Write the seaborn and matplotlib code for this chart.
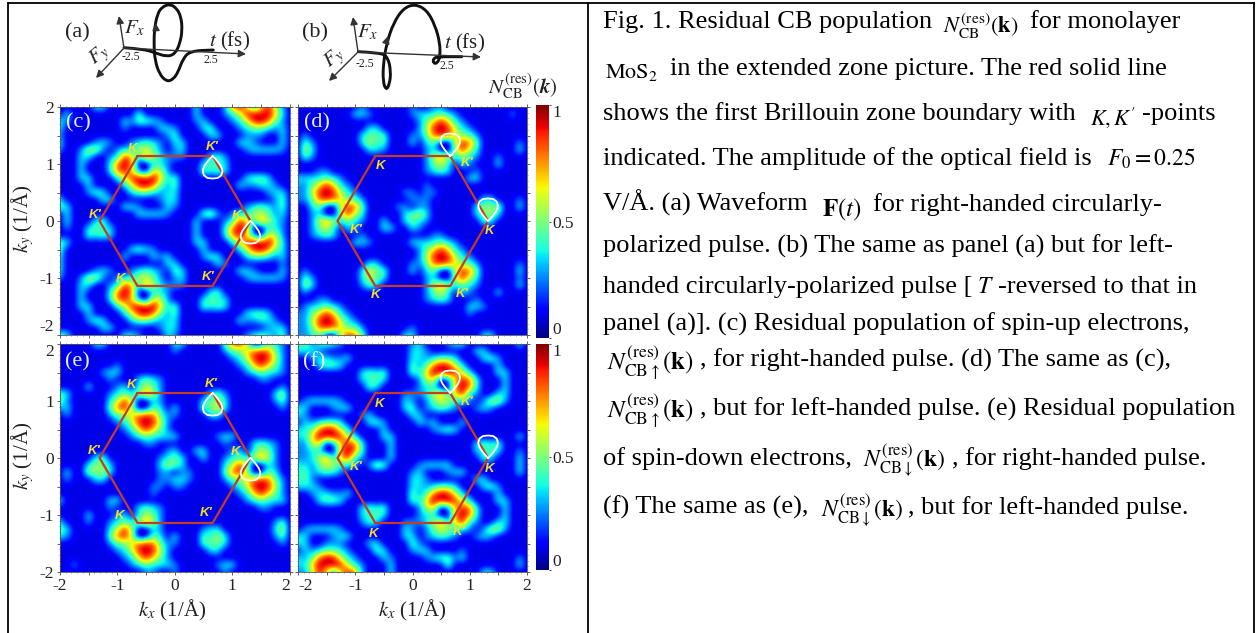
import numpy as np
import matplotlib
matplotlib.use('Agg')
import matplotlib.pyplot as plt
from matplotlib.path import Path
from matplotlib.patches import PathPatch
import seaborn as sns

sns.set_theme(style='white')
plt.rcParams['font.family'] = ['Liberation Serif', 'DejaVu Serif']
plt.rcParams['mathtext.fontset'] = 'stix'

# population, one digit per cell, read through value_levels
value_levels = [0.03, 0.09, 0.26, 0.37, 0.47, 0.58, 0.68, 0.8, 0.9, 0.98]
panel_c = [
    "11111331 11111111 11131112 78626852", "13111111 11141111 11131112 35898963",
    "32111111 13244321 11123111 23589742", "31111111 12111133 21113411 12344323",
    "21111111 11111112 41111331 11222113", "31111232 11234321 33111111 13321113",
    "21125521 23355421 23111111 11233332", "11133112 38637532 22111342 11111111",
    "11131113 79700332 11113433 11111111", "11131113 78620652 11114343 11111111",
    "11133111 35898963 41111111 11344311", "11113111 13589742 41111111 13223321",
    "11112431 11344323 31111111 11111233", "31111133 11111123 31111111 11111124",
    "43111111 13321113 21111111 11234324", "13111111 11133332 11114521 23355423",
    "13111341 11111111 11131112 38637532", "12113433 11111111 11131113 79700332",
    "11114343 11111111 11131113 78620652", "43111111 11111111 11133111 35898963",
    "41111111 11343211 11113111 13589743", "31111111 13111323 11112431 11344323",
    "31111111 11111113 31111132 11111112", "31111232 11234321 43111111 13321113",
    "21125521 23355421 23111111 11233332", "11133112 38637532 22111111 11111111",
    "11131113 79700332 11111341 11111111", "11131113 78620652 11113433 11111111",
    "11133111 35898963 41114343 11111111", "11113111 13589742 41111111 11344311",
    "11112431 11344323 31111111 13223321", "11111133 11111123 31111111 11111233",
    "43111111 13321113 21111111 11234324",
]
panel_d = [
    "11111111 12111111 21122111 11111111", "11111111 33211111 23334321 11111121",
    "11111111 11111111 12468632 11111111", "11111111 11331111 12589853 21111111",
    "12111111 13444111 22478764 42111111", "14211111 13534111 31341058 74111112",
    "15311111 11332111 11230058 53111113", "14211111 11111111 11257534 32112111",
    "11111111 11111111 11245313 21113111", "11122111 11111111 11234311 12111111",
    "33334321 11111111 11111111 33111111", "22468632 11111111 11211111 11111111",
    "22589853 21111112 21221111 11111111", "22478764 42111111 22211111 11331112",
    "11341058 74111122 12211111 13545113", "11230058 53111113 45311111 13453111",
    "11257534 32113113 43211111 11431111", "11245313 21113311 32111111 11111111",
    "11234311 12111111 11122111 11111111", "11111111 33211111 33334321 11111111",
    "11111111 11111111 12468632 11111111", "11111111 11111111 12589853 21111111",
    "11111111 11331111 22478764 42111112", "12111111 13644111 31341058 74111113",
    "14211111 13543111 11230058 53111112", "15311111 12431111 11257534 32111113",
    "12111111 11111111 11245313 21113111", "11122111 11111111 11234311 12111111",
    "12334321 11111111 11111111 33211111", "22468632 11111111 11111111 21111111",
    "22589853 21111111 11111111 11111111", "22478764 42111111 21111111 11111111",
    "22341058 74111113 31111111 11331111",
]
panel_e = [
    "11111331 11111111 33111114 78501432", "11111111 11111111 21111112 44678742",
    "11111111 11111111 11111111 23589852", "11111111 21111111 11111111 12368642",
    "11111123 31111111 11111111 11234332", "11111112 11134321 11111111 11112211",
    "11113111 23135421 11111111 11111112", "43111112 34357521 11111342 11111135",
    "42111113 58500321 11113453 11111124", "23111114 78501431 31114463 11111112",
    "12111112 44678742 21111331 11111111", "11111111 23589852 11111111 11111111",
    "11111111 12368642 11111111 11111111", "11111111 11234333 31111123 31111111",
    "11111111 11112211 11111112 11134321", "11111111 11111112 31133111 23135421",
    "11111341 11111123 43113112 34357521", "11113543 11111135 43111113 58500321",
    "13115453 11111122 12211114 78501431", "12111331 11111122 33211112 44678742",
    "11111111 11111221 22111111 23589852", "11111111 11111211 11111111 12368642",
    "31111113 31111111 11111111 11234333", "11111112 11134321 11111111 11112211",
    "11113111 23135421 11111111 11111111", "31112112 34357521 11111111 11111124",
    "43111113 58500321 11112331 11111135", "32111114 78501431 31114353 11111124",
    "11111112 44678742 21114443 11111112", "11111111 23589852 11111331 11111111",
    "11111111 12368642 11111111 11111111", "11211111 11234333 21111123 31111111",
    "11111111 11112211 21111112 11111111",
]
panel_f = [
    "34234321 11111111 23111233 11111113", "33321111 11111111 33211111 13311111",
    "11233223 11111111 33234431 11342111", "11134431 11111111 42479853 11113111",
    "11111111 13434111 43698985 31113311", "11111111 13343111 12560268 73111311",
    "11111111 11431111 12330079 73111311", "11111111 11111112 22357368 32113311",
    "12333321 11111113 21245533 21255211", "33111233 11111113 41234321 12321111",
    "32111111 12311111 33111111 11111111", "13234431 11342111 13231113 11111111",
    "33479853 11113111 11123431 11111111", "33698985 31113311 11111111 11111113",
    "22560268 73111311 11111111 13434111", "22330079 73111311 11111111 13343112",
    "22357368 32111311 11111111 11431113", "33245533 21254111 12333311 11111113",
    "34234321 11111111 23111233 11111113", "34211111 11111111 33211111 13311111",
    "33321111 11111111 33234431 11342111", "11233223 11111111 42479853 11113111",
    "11134431 11111111 43698985 31113311", "11111111 13434111 12560268 73111311",
    "11111111 13343111 12330079 73111311", "11111111 12431112 22357368 32113311",
    "12333321 11111113 21245533 21255211", "33111233 11111113 31234321 12321111",
    "33112221 11331111 42111111 11111111", "13234432 11143111 23311112 11111111",
    "32479853 21113211 11234423 11111112", "33698985 32111311 11111411 11111113",
    "22586268 72111311 11111111 11331111",
]

# first Brillouin zone and the teardrop rings
hex_kx = [-0.65, 0.66, 1.32, 0.66, -0.65, -1.31, -0.65]
hex_ky = [1.14, 1.14, 0, -1.14, -1.14, 0, 1.14]
ring_dx = [0, 0.04, 0.09, 0.14, 0.165, 0.17, 0.15, 0.09, 0, -0.09, -0.15, -0.17, -0.165, -0.14, -0.09, -0.04, 0]
ring_dy = [0, -0.04, -0.10, -0.17, -0.23, -0.28, -0.34, -0.385, -0.395, -0.385, -0.34, -0.28, -0.23, -0.17, -0.10, -0.04, 0]
ring_apex_x = [0.66, 1.32]
ring_apex_y = [1.14, 0]

labels_c = [("K", -0.73, 1.26), ("K'", 0.65, 1.30), ("K'", -1.39, 0.10), ("K", 1.07, 0.09), ("K", -0.94, -1.02), ("K'", 0.59, -0.98)]
labels_d = [("K", -0.55, 0.97), ("K'", 0.95, 1.01), ("K'", -0.98, -0.16), ("K", 1.35, -0.18), ("K", -0.65, -1.30), ("K'", 0.86, -1.28)]
labels_e = [("K", -0.76, 1.28), ("K'", 0.63, 1.30), ("K'", -1.41, 0.13), ("K", 1.06, 0.10), ("K", -0.96, -1.01), ("K'", 0.55, -0.97)]
labels_f = [("K", -0.57, 0.95), ("K'", 0.96, 0.99), ("K'", -0.99, -0.15), ("K", 1.34, -0.19), ("K", -0.68, -1.33), ("K'", 0.82, -1.29)]

# waveforms, in picture pixels
wave_a_x = [124, 143, 155, 166.7, 175, 180, 182.3, 181, 176.7, 170, 162.3, 157.3, 154.3, 154, 155, 159.3, 166.7, 173.3, 178.3, 182.7, 190, 213.3]
wave_a_y = [47.7, 49, 52.7, 56.7, 54, 43.3, 30, 16.7, 8.3, 4, 6.7, 14, 30, 46.7, 60, 74, 81.7, 79.3, 71.7, 59.3, 51, 50]
wave_b_x = [358.3, 380, 387.7, 391, 389.3, 386, 383, 383.3, 386.7, 393.3, 403.3, 415, 426.7, 435, 440, 440, 437.3, 433.3, 433.3, 438.3, 461.7]
wave_b_y = [51.7, 52.7, 56.7, 71.7, 85, 90, 81.7, 63.3, 43.3, 23.3, 8.3, 4, 10, 25, 43.3, 56.7, 63.3, 63.3, 58.3, 56.7, 56.7]

W, H = 1258, 633
fig = plt.figure(figsize=(W / 100, H / 100), dpi=100, facecolor='white')


def px_axes(x0, y0, x1, y1):
    return fig.add_axes([x0 / W, 1 - y1 / H, (x1 - x0) / W, (y1 - y0) / H])


def kx_pos(k):
    return (np.asarray(k) + 2) * 8 + 0.5


def ky_pos(k):
    return (2 - np.asarray(k)) * 8 + 0.5


def draw_panel(rows, box, names, apex_up, xlab, ylab, cbar_box=None):
    ax = px_axes(*box)
    cells = [r.replace(' ', '').ljust(33, '1')[:33] for r in rows]
    values = np.array([[value_levels[int(c)] for c in r] for r in cells])
    if cbar_box is None:
        sns.heatmap(values, ax=ax, cmap='jet', vmin=0, vmax=1, cbar=False, xticklabels=False, yticklabels=False)
    else:
        cax = px_axes(*cbar_box)
        sns.heatmap(values, ax=ax, cmap='jet', vmin=0, vmax=1, cbar_ax=cax, xticklabels=False, yticklabels=False,
                    cbar_kws={'ticks': [0, 0.5, 1]})
        cax.set_yticklabels(['0', '0.5', '1'], fontsize=12.5, color='#222222')
        cax.tick_params(length=1.5, width=0.6, pad=1, color='#222222')
        tick_names = cax.get_yticklabels()
        tick_names[0].set_va('bottom')
        tick_names[2].set_va('top')
    # same cells, smoothed like the original map
    ax.imshow(values, cmap='jet', vmin=0, vmax=1, extent=(0, 33, 33, 0), aspect='auto',
              interpolation='bicubic', interpolation_stage='data', zorder=1.5)
    ax.set_xlim(0.5, 32.5)
    ax.set_ylim(32.5, 0.5)
    ax.plot(kx_pos(hex_kx), ky_pos(hex_ky), color='#c43c26', lw=1.6, solid_joinstyle='round', zorder=3)
    sign = -1 if apex_up else 1
    for ax0, ay0 in zip(ring_apex_x, ring_apex_y):
        ax.plot(kx_pos(np.array(ring_dx) + ax0), ky_pos(sign * np.array(ring_dy) + ay0),
                color='white', lw=1.3, zorder=3)
    for name, kx, ky in names:
        ax.text(kx_pos(kx), ky_pos(ky), name, color='#f6e11e', fontsize=9.5, ha='center', va='center',
                family='Liberation Sans', style='italic', weight='bold', zorder=4)
    major = [-2, -1.5, -1, -0.5, 0, 0.5, 1, 1.5, 2]
    minor = [v / 10 for v in range(-20, 21)]
    ax.set_xticks(kx_pos(major))
    ax.set_yticks(ky_pos(major))
    ax.set_xticks(kx_pos(minor), minor=True)
    ax.set_yticks(ky_pos(minor), minor=True)
    names_major = ['-2', '', '-1', '', '0', '', '1', '', '2']
    ax.set_xticklabels(names_major if xlab else [''] * 9, fontsize=12.5, color='#222222')
    ax.set_yticklabels(names_major if ylab else [''] * 9, fontsize=12.5, color='#222222')
    ax.tick_params(which='major', length=2.2, width=0.6, color='#444444', pad=2,
                   left=True, bottom=True, top=True, right=True)
    ax.tick_params(which='minor', length=1.0, width=0.4, color='#444444',
                   left=True, bottom=True, top=True, right=True)
    for s in ax.spines.values():
        s.set_visible(True)
        s.set_linewidth(0.6)
        s.set_color('#555555')
    return ax


ax_c = draw_panel(panel_c, (60, 107, 289.5, 335), labels_c, False, False, True)
ax_d = draw_panel(panel_d, (298, 107, 527, 335), labels_d, True, False, False, (536, 105, 549, 338))
ax_e = draw_panel(panel_e, (60, 344, 289.5, 572), labels_e, False, True, True)
ax_f = draw_panel(panel_f, (298, 344, 527, 572), labels_f, True, True, False, (536, 344, 549, 570))

# keep the neighbouring end labels apart, as in the original
ax_c.get_yticklabels()[0].set_va('bottom')
ax_e.get_yticklabels()[8].set_va('top')
ax_e.get_xticklabels()[8].set_ha('right')
ax_f.get_xticklabels()[0].set_ha('left')

# everything else is placed in picture pixels on one top layer
top = fig.add_axes([0, 0, 1, 1], facecolor='none')
top.set_xlim(0, W)
top.set_ylim(H, 0)
top.axis('off')

for x0, y0, x1, y1 in [(8, 3, 1254, 3), (8, 3, 8, 633), (588, 3, 588, 633), (1254, 3, 1254, 633)]:
    top.plot([x0, x1], [y0, y1], color='black', lw=1.3, solid_capstyle='projecting')


def wave(xs, ys):
    # typed points are the control points of a quadratic curve
    pts = list(zip(xs, ys))
    verts = [pts[0]]
    codes = [Path.MOVETO]
    for p, q in zip(pts[1:-1], pts[2:]):
        verts += [p, ((p[0] + q[0]) / 2, (p[1] + q[1]) / 2)]
        codes += [Path.CURVE3, Path.CURVE3]
    verts.append(pts[-1])
    codes.append(Path.LINETO)
    top.add_patch(PathPatch(Path(verts, codes), fill=False, color='#111111', lw=2.1, capstyle='round'))


wave(wave_a_x, wave_a_y)
wave(wave_b_x, wave_b_y)


def arrow(x0, y0, x1, y1, lw=1.0):
    top.annotate('', xy=(x1, y1), xytext=(x0, y0),
                 arrowprops=dict(arrowstyle='-|>', color='#333333', lw=lw, shrinkA=0, shrinkB=0, mutation_scale=11))


arrow(124, 48, 119, 16)
arrow(124, 48, 96, 78)
arrow(124, 48, 246, 54)
arrow(358, 52, 353, 17)
arrow(358, 52, 329, 81)
arrow(358, 52, 481, 57)
arrow(156, 30, 155.5, 23, 1.0)
arrow(386, 43, 388, 36, 1.0)

for x, y, t, size, rot in [
    (77, 33, '(a)', 16, 0), (315, 33, '(b)', 16, 0),
    (135, 28, r'$F_x$', 15, 0), (368, 32, r'$F_x$', 15, 0),
    (100, 55, r'$F_y$', 15, 40), (335, 58, r'$F_y$', 15, 40),
    (131, 57, '-2.5', 8.5, 0), (365, 64, '-2.5', 8.5, 0),
    (211, 60, '2.5', 8.5, 0), (447, 66, '2.5', 8.5, 0),
    (230, 41, r'$t$ (fs)', 15, 0), (465, 43, r'$t$ (fs)', 15, 0),
    (523, 86, r'$N_{\mathrm{CB}}^{(\mathrm{res})}(\boldsymbol{k})$', 15, 0),
    (23, 219, r'$k_y$ (1/Å)', 15, 90), (23, 456, r'$k_y$ (1/Å)', 15, 90),
    (172, 610, r'$k_x$ (1/Å)', 15, 0), (412, 610, r'$k_x$ (1/Å)', 15, 0),
]:
    top.text(x, y, t, fontsize=size, rotation=rot, ha='center', va='center', color='#222222')

for x, y, t in [(78, 123, '(c)'), (317, 123, '(d)'), (77, 362, '(e)'), (314, 362, '(f)')]:
    top.text(x, y, t, fontsize=16, color='#e8f0ff', ha='center', va='center', zorder=5)

# caption, one piece per run of text or equation (x, baseline y, text, size)
N_small = r'$N_{\mathrm{CB}}^{(\mathrm{res})}(\mathbf{k})$'
N_up = r'$N_{\mathrm{CB}\uparrow}^{(\mathrm{res})}(\mathbf{k})$'
N_down = r'$N_{\mathrm{CB}\downarrow}^{(\mathrm{res})}(\mathbf{k})$'
caption = [
    (603, 28, 'Fig. 1. Residual CB population', 19), (943, 33, N_small, 16), (1030, 28, 'for monolayer', 19),
    (605, 78, r'$\mathrm{MoS}_2$', 16), (670, 75, 'in the extended zone picture. The red solid line', 19),
    (603, 120, 'shows the first Brillouin zone boundary with', 19), (1090, 125, r"$K, K'$", 16), (1142, 120, '-points', 19),
    (603, 165, 'indicated. The amplitude of the optical field is', 19), (1107, 166, r'$F_0 = 0.25$', 17),
    (603, 211, 'V/Å. (a) Waveform', 19), (822, 216, r'$\mathbf{F}(t)$', 18), (873, 211, 'for right-handed circularly-', 19),
    (603, 253, 'polarized pulse. (b) The same as panel (a) but for left-', 19),
    (603, 293, 'handed circularly-polarized pulse [', 19), (977, 293, r'$T$', 17), (998, 293, '-reversed to that in', 19),
    (603, 331, 'panel (a)]. (c) Residual population of spin-up electrons,', 19),
    (607, 370, N_up, 18), (700, 367, ', for right-handed pulse. (d) The same as (c),', 19),
    (607, 418, N_up, 18), (700, 416, ', but for left-handed pulse. (e) Residual population', 19),
    (603, 465, 'of spin-down electrons,', 19), (863, 467, N_down, 17), (952, 465, ', for right-handed pulse.', 19),
    (603, 514, '(f) The same as (e),', 19), (821, 517, N_down, 17), (908, 514, ', but for left-handed pulse.', 19),
]
for x, y, t, size in caption:
    top.text(x, y, t, fontsize=size, ha='left', va='baseline', color='black')

fig.savefig('out.png', dpi=100)
